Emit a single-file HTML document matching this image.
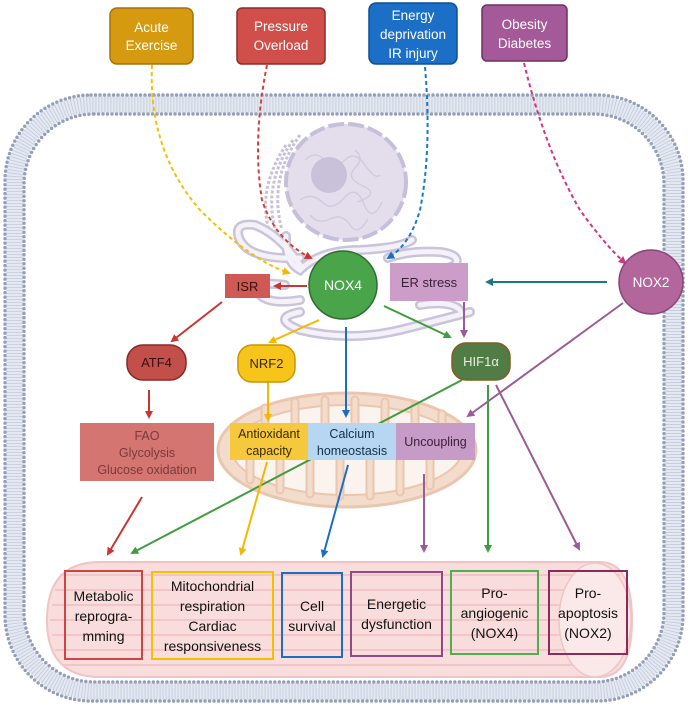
<!DOCTYPE html>
<html><head><meta charset="utf-8"><style>
html,body{margin:0;padding:0;background:#fff;width:688px;height:707px;overflow:hidden}
svg{display:block}
text{font-family:"Liberation Sans",sans-serif;}
</style></head><body>
<svg width="688" height="707" viewBox="0 0 688 707" xmlns="http://www.w3.org/2000/svg">
<defs>
<marker id="aR" markerWidth="8" markerHeight="8" refX="6" refY="4" orient="auto" markerUnits="userSpaceOnUse"><path d="M0,0 L8,4 L0,8 Z" fill="#c8362f"/></marker>
<marker id="aY" markerWidth="8" markerHeight="8" refX="6" refY="4" orient="auto" markerUnits="userSpaceOnUse"><path d="M0,0 L8,4 L0,8 Z" fill="#f5b800"/></marker>
<marker id="aB" markerWidth="8" markerHeight="8" refX="6" refY="4" orient="auto" markerUnits="userSpaceOnUse"><path d="M0,0 L8,4 L0,8 Z" fill="#1a6fc4"/></marker>
<marker id="aG" markerWidth="8" markerHeight="8" refX="6" refY="4" orient="auto" markerUnits="userSpaceOnUse"><path d="M0,0 L8,4 L0,8 Z" fill="#3f9c3f"/></marker>
<marker id="aP" markerWidth="8" markerHeight="8" refX="6" refY="4" orient="auto" markerUnits="userSpaceOnUse"><path d="M0,0 L8,4 L0,8 Z" fill="#9b5a98"/></marker>
<marker id="aK" markerWidth="8" markerHeight="8" refX="6" refY="4" orient="auto" markerUnits="userSpaceOnUse"><path d="M0,0 L8,4 L0,8 Z" fill="#d63384"/></marker>
<marker id="aT" markerWidth="8" markerHeight="8" refX="6" refY="4" orient="auto" markerUnits="userSpaceOnUse"><path d="M0,0 L8,4 L0,8 Z" fill="#1a7a80"/></marker>
</defs>

<!-- membrane -->
<rect x="14.5" y="104.5" width="659" height="587" rx="78" fill="none" stroke="#e4e8f1" stroke-width="17"/>
<rect x="14.5" y="104.5" width="659" height="587" rx="78" fill="none" stroke="#c3cadb" stroke-width="16" stroke-dasharray="0.8 2.2"/>
<rect x="5" y="95" width="678" height="606" rx="86" fill="none" stroke="#95a0b8" stroke-width="3.5" stroke-linecap="round" stroke-dasharray="0 4.5"/>
<rect x="24" y="114" width="640" height="568" rx="70" fill="none" stroke="#95a0b8" stroke-width="3.5" stroke-linecap="round" stroke-dasharray="0 4.5"/>

<!-- nucleus + rough ER arcs -->
<g fill="none" stroke="#c7c0d8" stroke-width="3" stroke-dasharray="3 2">
<path d="M300,135 Q268,180 282,230"/><path d="M293,140 Q262,185 276,232"/><path d="M286,145 Q256,190 270,234"/>
</g>
<ellipse cx="346" cy="182" rx="60" ry="58" fill="#e4deec" stroke="#c6bfd9" stroke-width="4" stroke-dasharray="16 4"/>
<g fill="none" stroke="#d2cbe0" stroke-width="1.5">
<path d="M305,160 q10,-10 20,0 t20,0 t20,5 t15,10"/><path d="M300,200 q12,-8 22,2 t22,-4 t20,6 t18,-2"/><path d="M310,215 q8,10 20,4 t20,6 t18,-6"/><path d="M355,150 q10,8 0,18 t8,18 t-6,16"/>
</g>
<circle cx="329" cy="175" r="18" fill="#c9c1da"/>

<!-- ER tubes -->
<g fill="none" stroke-linecap="round">
<g stroke="#c9c3db" stroke-width="10">
<path d="M300,258 Q250,260 240,240 Q232,222 255,225 Q280,235 300,265"/>
<path d="M286,236 Q285,262 300,270 Q320,250 360,250 Q400,248 412,240"/>
<path d="M388,258 Q410,250 440,252 Q462,255 455,265 Q440,273 410,270"/>
<path d="M285,285 Q250,280 260,295 Q270,305 300,300"/>
<path d="M300,312 Q270,318 300,330 Q350,342 400,330 Q440,320 470,312"/>
<path d="M420,305 Q450,300 460,310"/>
</g>
<g stroke="#f4f2f8" stroke-width="5">
<path d="M300,258 Q250,260 240,240 Q232,222 255,225 Q280,235 300,265"/>
<path d="M286,236 Q285,262 300,270 Q320,250 360,250 Q400,248 412,240"/>
<path d="M388,258 Q410,250 440,252 Q462,255 455,265 Q440,273 410,270"/>
<path d="M285,285 Q250,280 260,295 Q270,305 300,300"/>
<path d="M300,312 Q270,318 300,330 Q350,342 400,330 Q440,320 470,312"/>
<path d="M420,305 Q450,300 460,310"/>
</g>
</g>

<!-- mitochondrion -->
<ellipse cx="347" cy="450" rx="129" ry="57" fill="#f4dccd" stroke="#ebc6af" stroke-width="3"/>
<ellipse cx="347" cy="450" rx="115" ry="45" fill="#fbf3ee" stroke="#ebc6af" stroke-width="2"/>
<g fill="none" stroke-linecap="round">
<g stroke="#ebc6af" stroke-width="9">
<path d="M250,480 v-40"/><path d="M280,490 v-45"/><path d="M310,494 v-45"/><path d="M340,496 v-45"/><path d="M370,496 v-45"/><path d="M400,492 v-42"/><path d="M430,486 v-40"/>
<path d="M265,408 v25"/><path d="M295,402 v30"/><path d="M325,400 v30"/><path d="M355,400 v30"/><path d="M385,402 v28"/><path d="M415,406 v26"/><path d="M442,414 v18"/>
</g>
<g stroke="#f4dccd" stroke-width="5">
<path d="M250,480 v-40"/><path d="M280,490 v-45"/><path d="M310,494 v-45"/><path d="M340,496 v-45"/><path d="M370,496 v-45"/><path d="M400,492 v-42"/><path d="M430,486 v-40"/>
<path d="M265,408 v25"/><path d="M295,402 v30"/><path d="M325,400 v30"/><path d="M355,400 v30"/><path d="M385,402 v28"/><path d="M415,406 v26"/><path d="M442,414 v18"/>
</g>
</g>

<!-- muscle fiber -->
<path d="M100,562 H600 Q632,562 632,620 Q632,677 600,677 H100 Q47,677 47,620 Q47,562 100,562 Z" fill="#f9dcdc" stroke="#f0c4c4" stroke-width="2"/>
<g stroke="#f2c6c6" stroke-width="2">
<line x1="60" y1="575" x2="620" y2="575"/><line x1="55" y1="590" x2="625" y2="590"/><line x1="52" y1="605" x2="628" y2="605"/><line x1="50" y1="620" x2="630" y2="620"/><line x1="52" y1="635" x2="628" y2="635"/><line x1="55" y1="650" x2="625" y2="650"/><line x1="62" y1="665" x2="618" y2="665"/>
</g>
<ellipse cx="595" cy="620" rx="36" ry="57" fill="#fbe9e9" stroke="#f0c4c4" stroke-width="1.5"/>

<!-- dashed inputs -->
<g fill="none" stroke-width="2" stroke-dasharray="4 3">
<path d="M152,65 Q148,150 200,210 Q250,260 289,273" stroke="#f5c000" marker-end="url(#aY)"/>
<path d="M267,65 Q252,140 262,200 Q275,240 311,258" stroke="#d0413b" marker-end="url(#aR)"/>
<path d="M425,67 Q432,150 420,210 Q410,245 388,258" stroke="#1a78c8" marker-end="url(#aB)"/>
<path d="M524,63 Q545,150 580,210 Q605,245 625,263" stroke="#d63384" marker-end="url(#aK)"/>
</g>

<!-- solid arrows -->
<g fill="none" stroke-width="2">
<line x1="607" y1="282" x2="487" y2="282" stroke="#1a7a80" marker-end="url(#aT)"/>
<line x1="307" y1="286" x2="275" y2="286" stroke="#c8362f" marker-end="url(#aR)"/>
<line x1="464" y1="302" x2="464" y2="336" stroke="#9b5a98" marker-end="url(#aP)"/>
<line x1="384" y1="306" x2="450" y2="337" stroke="#3f9c3f" marker-end="url(#aG)"/>
<line x1="319" y1="320" x2="270" y2="342" stroke="#f5b800" marker-end="url(#aY)"/>
<line x1="346" y1="327" x2="346" y2="416" stroke="#1a6fc4" marker-end="url(#aB)"/>
<line x1="222" y1="302" x2="172" y2="341" stroke="#c8362f" marker-end="url(#aR)"/>
<line x1="623" y1="303" x2="468" y2="416" stroke="#9b5a98" marker-end="url(#aP)"/>
<line x1="149" y1="390" x2="149" y2="417" stroke="#c8362f" marker-end="url(#aR)"/>
<line x1="268" y1="382" x2="268" y2="420" stroke="#f5b800" marker-end="url(#aY)"/>
<line x1="462" y1="380" x2="132" y2="553" stroke="#3f9c3f" marker-end="url(#aG)"/>
<line x1="488" y1="385" x2="488" y2="551" stroke="#3f9c3f" marker-end="url(#aG)"/>
<line x1="496" y1="385" x2="579" y2="549" stroke="#9b5a98" marker-end="url(#aP)"/>
<line x1="142" y1="497" x2="108" y2="554" stroke="#c8362f" marker-end="url(#aR)"/>
<line x1="267" y1="462" x2="241" y2="554" stroke="#f5b800" marker-end="url(#aY)"/>
<line x1="348" y1="465" x2="323" y2="556" stroke="#1a6fc4" marker-end="url(#aB)"/>
<line x1="424" y1="474" x2="424" y2="551" stroke="#9b5a98" marker-end="url(#aP)"/>
</g>

<!-- top boxes -->
<rect x="110" y="8" width="83" height="56" rx="7" fill="#d69a10" stroke="#a67308" stroke-width="1.5"/>
<text x="151.5" y="32" font-size="13.5" fill="#fff" text-anchor="middle">Acute</text>
<text x="151.5" y="50" font-size="13.5" fill="#fff" text-anchor="middle">Exercise</text>
<rect x="237" y="8" width="88" height="56" rx="5" fill="#d14f4a" stroke="#8e2c28" stroke-width="1.5"/>
<text x="281" y="31" font-size="13.5" fill="#fff" text-anchor="middle">Pressure</text>
<text x="281" y="50" font-size="13.5" fill="#fff" text-anchor="middle">Overload</text>
<rect x="369" y="3" width="88" height="61" rx="7" fill="#1b6fc6" stroke="#0d4f96" stroke-width="1.5"/>
<text x="413" y="20" font-size="13.5" fill="#fff" text-anchor="middle">Energy</text>
<text x="413" y="39" font-size="13.5" fill="#fff" text-anchor="middle">deprivation</text>
<text x="413" y="58" font-size="13.5" fill="#fff" text-anchor="middle">IR injury</text>
<rect x="482" y="5" width="85" height="56" rx="5" fill="#a45a98" stroke="#6e3064" stroke-width="1.5"/>
<text x="524.5" y="29" font-size="13.5" fill="#fff" text-anchor="middle">Obesity</text>
<text x="524.5" y="48" font-size="13.5" fill="#fff" text-anchor="middle">Diabetes</text>

<!-- nodes -->
<circle cx="343" cy="285" r="34" fill="#4aa54a" stroke="#2e6e2e" stroke-width="1.5"/>
<text x="343" y="290" font-size="14" fill="#fff" text-anchor="middle">NOX4</text>
<rect x="225" y="274" width="45" height="24" fill="#cf5a55"/>
<text x="247.5" y="291" font-size="13" fill="#3a1010" text-anchor="middle">ISR</text>
<rect x="390" y="263" width="78" height="38" fill="#cd9dc9"/>
<text x="429" y="287" font-size="13" fill="#3a1f38" text-anchor="middle">ER stress</text>
<circle cx="651" cy="282" r="32" fill="#b2669c" stroke="#8a4676" stroke-width="1.5"/>
<text x="651" y="287" font-size="13.5" fill="#fff" text-anchor="middle">NOX2</text>

<rect x="127" y="345" width="59" height="35" rx="16" fill="#c24f4a" stroke="#8a2a26" stroke-width="1.5"/>
<text x="156.5" y="367" font-size="13" fill="#3a1010" text-anchor="middle">ATF4</text>
<rect x="238" y="345" width="57" height="37" rx="14" fill="#f6c41a" stroke="#c99600" stroke-width="1.5"/>
<text x="266.5" y="368" font-size="13" fill="#3a2a00" text-anchor="middle">NRF2</text>
<rect x="452" y="343" width="58" height="37" rx="14" fill="#517c45" stroke="#8a5a20" stroke-width="1.5"/>
<text x="481" y="366" font-size="13" fill="#e8f0e0" text-anchor="middle">HIF1α</text>

<rect x="80" y="423" width="134" height="58" fill="#d47572"/>
<text x="147" y="440" font-size="12.5" fill="#7a3a3a" text-anchor="middle">FAO</text>
<text x="147" y="457" font-size="12.5" fill="#7a3a3a" text-anchor="middle">Glycolysis</text>
<text x="147" y="474" font-size="12.5" fill="#7a3a3a" text-anchor="middle">Glucose oxidation</text>

<rect x="230" y="423" width="78" height="37" fill="#f6c83c"/>
<text x="269" y="438" font-size="12.5" fill="#3a2a00" text-anchor="middle">Antioxidant</text>
<text x="269" y="455" font-size="12.5" fill="#3a2a00" text-anchor="middle">capacity</text>
<rect x="308" y="423" width="88" height="37" fill="#b7d6f1"/>
<text x="352" y="438" font-size="12.5" fill="#10304a" text-anchor="middle">Calcium</text>
<text x="352" y="455" font-size="12.5" fill="#10304a" text-anchor="middle">homeostasis</text>
<rect x="396" y="423" width="79" height="37" fill="#c79bc7"/>
<text x="435.5" y="446" font-size="12.5" fill="#3a1f38" text-anchor="middle">Uncoupling</text>

<!-- bottom outcome boxes -->
<g fill="none" stroke-width="2">
<rect x="65" y="571" width="77" height="88" stroke="#cc4444"/>
<rect x="152" y="572" width="121" height="87" stroke="#f5c000"/>
<rect x="282" y="573" width="60" height="84" stroke="#1a6fc4"/>
<rect x="351" y="572" width="91" height="84" stroke="#8e4a86"/>
<rect x="451" y="571" width="87" height="83" stroke="#4caf50"/>
<rect x="549" y="571" width="78" height="83" stroke="#8b2b5a"/>
</g>
<g font-size="14" fill="#111" text-anchor="middle">
<text x="103.5" y="601">Metabolic</text><text x="103.5" y="621">reprogra-</text><text x="103.5" y="641">mming</text>
<text x="212.5" y="591">Mitochondrial</text><text x="212.5" y="611">respiration</text><text x="212.5" y="631">Cardiac</text><text x="212.5" y="651">responsiveness</text>
<text x="312" y="611">Cell</text><text x="312" y="631">survival</text>
<text x="396.5" y="609">Energetic</text><text x="396.5" y="629">dysfunction</text>
<text x="494.5" y="598">Pro-</text><text x="494.5" y="618">angiogenic</text><text x="494.5" y="638">(NOX4)</text>
<text x="588" y="598">Pro-</text><text x="588" y="618">apoptosis</text><text x="588" y="638">(NOX2)</text>
</g>
</svg>
</body></html>
